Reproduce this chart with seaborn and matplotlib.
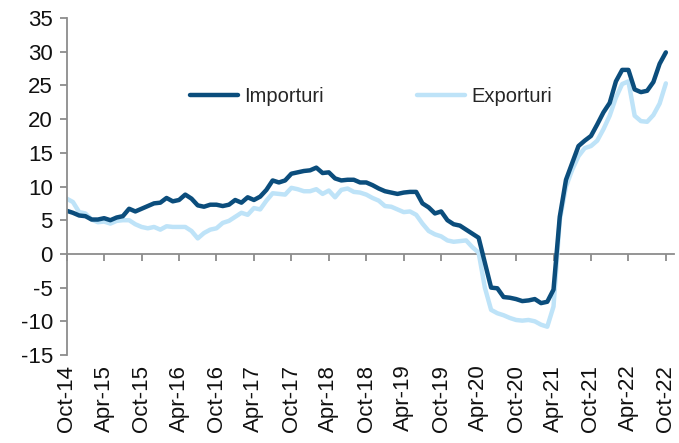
import numpy as np
import pandas as pd
import matplotlib
matplotlib.use("Agg")
import matplotlib.pyplot as plt
from matplotlib.lines import Line2D
import seaborn as sns

months = pd.date_range("2014-10-01", "2022-10-01", freq="MS").strftime("%b-%y").tolist()

importuri = [6.4, 6.1, 5.7, 5.6, 5.1, 5.1, 5.3, 5.0, 5.4, 5.6,
             6.7, 6.3, 6.7, 7.1, 7.5, 7.6, 8.3, 7.8, 8.0, 8.8,
             8.2, 7.2, 7.0, 7.3, 7.3, 7.1, 7.3, 8.0, 7.6, 8.4,
             8.0, 8.5, 9.5, 10.9, 10.6, 10.9, 11.9, 12.1, 12.3, 12.4,
             12.8, 12.0, 12.1, 11.2, 10.9, 11.0, 11.0, 10.6, 10.6, 10.2,
             9.7, 9.3, 9.1, 8.9, 9.1, 9.2, 9.2, 7.5, 6.9, 6.0,
             6.3, 5.0, 4.4, 4.2, 3.6, 3.0, 2.4, -1.3, -5.0, -5.1,
             -6.4, -6.5, -6.7, -7.0, -6.9, -6.7, -7.3, -7.1, -5.3, 5.5,
             11.0, 13.5, 16.0, 16.8, 17.5, 19.2, 21.0, 22.4, 25.6, 27.3,
             27.3, 24.4, 24.0, 24.2, 25.5, 28.2, 29.9]

exporturi = [8.2, 7.7, 6.2, 6.0, 5.1, 4.7, 4.8, 4.5, 4.9, 5.0,
             5.0, 4.4, 4.0, 3.8, 4.0, 3.6, 4.1, 4.0, 4.0, 4.0,
             3.4, 2.3, 3.1, 3.6, 3.8, 4.6, 4.9, 5.5, 6.1, 5.8,
             6.8, 6.6, 7.9, 9.0, 8.9, 8.8, 9.8, 9.6, 9.3, 9.3,
             9.6, 8.9, 9.4, 8.4, 9.5, 9.7, 9.2, 9.1, 8.8, 8.3,
             7.9, 7.1, 7.0, 6.6, 6.2, 6.3, 5.8, 4.5, 3.4, 2.9,
             2.6, 2.0, 1.8, 1.9, 2.0, 1.0, 0.2, -5.0, -8.3, -8.8,
             -9.1, -9.5, -9.8, -9.9, -9.8, -10.0, -10.5, -10.8, -7.8, 5.0,
             10.0, 12.5, 14.5, 15.7, 16.0, 16.8, 18.5, 20.5, 23.2, 25.2,
             25.6, 20.5, 19.7, 19.6, 20.6, 22.3, 25.3]

tick_labels = ["Oct-14", "Apr-15", "Oct-15", "Apr-16", "Oct-16", "Apr-17",
               "Oct-17", "Apr-18", "Oct-18", "Apr-19", "Oct-19", "Apr-20",
               "Oct-20", "Apr-21", "Oct-21", "Apr-22", "Oct-22"]

series_names = ["Importuri", "Exporturi"]
colors = {"Importuri": "#0B4D7C", "Exporturi": "#BEE3F8"}

n = len(months)
df = pd.DataFrame({
    "idx": list(range(n)) * 2,
    "luna": months * 2,
    "valoare": importuri + exporturi,
    "serie": ["Importuri"] * n + ["Exporturi"] * n,
})

sns.set_style("white")
plt.rcParams["font.family"] = ["Liberation Sans", "DejaVu Sans"]
plt.rcParams["axes.unicode_minus"] = False

fig = plt.figure(figsize=(6.79, 4.43), dpi=100)
ax = fig.add_axes([0.0982, 0.1986, 0.8944, 0.7608])

sns.lineplot(data=df, x="idx", y="valoare", hue="serie",
             hue_order=["Exporturi", "Importuri"], palette=colors,
             linewidth=3.2, ax=ax, legend=False)
for ln in ax.lines:
    ln.set_solid_capstyle("round")
    ln.set_solid_joinstyle("round")

ax.set_xlim(0, 97.3)
ax.set_ylim(-15, 35)
ax.set_yticks(range(-15, 36, 5))
ax.set_xticks(range(0, n, 6))
ax.set_xticklabels(tick_labels, rotation=90)
ax.set_xlabel("")
ax.set_ylabel("")

ax.tick_params(axis="x", length=0, pad=7, labelsize=16, labelcolor="#111111")
ax.tick_params(axis="y", length=5, width=1.3, direction="out", color="#8c8c8c",
               labelsize=16, pad=5, labelcolor="#111111", left=True)
for s in ["top", "right", "bottom"]:
    ax.spines[s].set_visible(False)
ax.spines["left"].set_color("#8c8c8c")
ax.spines["left"].set_linewidth(1.3)

sec = ax.secondary_xaxis(15 / 50)
sec.set_xticks(range(0, n, 6))
sec.set_xticklabels([])
sec.tick_params(length=5, width=1.3, direction="out", color="#8c8c8c")
sec.spines["bottom"].set_color("#8c8c8c")
sec.spines["bottom"].set_linewidth(1.3)
sec.set_zorder(0.5)

handles = [Line2D([], [], color=colors[s], linewidth=3.2) for s in series_names]
ax.legend(handles, series_names, loc="center", bbox_to_anchor=(0.501, 0.768),
          ncol=2, frameon=False, handlelength=2.4, columnspacing=4.6,
          handletextpad=0.3, fontsize=14.5)

fig.savefig("out.png", dpi=100)
